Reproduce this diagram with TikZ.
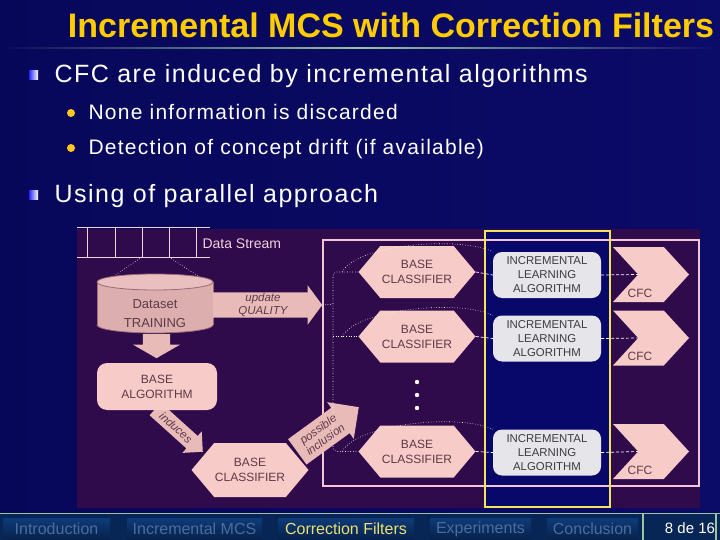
\documentclass[tikz,border=0pt]{standalone}
\usepackage{fontspec}
\setmainfont{Liberation Sans}
\usetikzlibrary{shapes.symbols,shapes.arrows,shapes.geometric}

\definecolor{slideL}{HTML}{07075A}
\definecolor{slideR}{HTML}{0B0B68}
\definecolor{navyfill}{HTML}{08086A}
\definecolor{titleyellow}{HTML}{FFCC00}
\definecolor{rulegreen}{HTML}{9CC4A0}
\definecolor{dotyellow}{HTML}{FFC820}
\definecolor{figbg}{HTML}{2F0B4C}
\definecolor{pinkfill}{HTML}{F7CBC8}
\definecolor{arrowfill}{HTML}{E8BAB8}
\definecolor{pinktext}{HTML}{5E3A48}
\definecolor{ilafill}{HTML}{E6E6EA}
\definecolor{ilatext}{HTML}{3C3C40}
\definecolor{cylbody}{HTML}{DDAEAE}
\definecolor{cylend}{HTML}{EABFBF}
\definecolor{cyledge}{HTML}{9C6A78}
\definecolor{streampink}{HTML}{F2D2DC}
\definecolor{framepink}{HTML}{F2C6D4}
\definecolor{boxyellow}{HTML}{F2E35A}
\definecolor{footbg}{HTML}{072656}
\definecolor{tabtop}{HTML}{0E3B78}
\definecolor{tabbot}{HTML}{06214C}
\definecolor{tabtext}{HTML}{4C6C9C}
\definecolor{tabactive}{HTML}{ECE070}

\tikzset{
  hexbox/.style={shape=signal, signal to=east and west, signal pointer angle=100,
    fill=pinkfill, text=pinktext, font=\fontsize{12}{15}\selectfont, align=center,
    minimum width=117pt, minimum height=52pt, inner sep=0pt},
  ilabox/.style={rectangle, rounded corners=9pt, fill=ilafill, text=ilatext,
    font=\fontsize{11.4}{14}\selectfont, align=center,
    minimum width=108pt, minimum height=46pt, inner sep=0pt},
  cfcbox/.style={shape=signal, signal from=west, signal to=east, signal pointer angle=95,
    fill=pinkfill, minimum width=76pt, minimum height=55pt, inner sep=0pt},
  cfctext/.style={text=pinktext, font=\fontsize{12}{12}\selectfont},
  bigarrow/.style={single arrow, fill=arrowfill, text=pinktext, single arrow head extend=7pt,
    inner sep=1pt, align=center, font=\itshape\fontsize{11.5}{12.5}\selectfont},
  dotline/.style={white, dotted, line width=0.6pt},
  dashline/.style={white, dashed, line width=0.7pt, dash pattern=on 3pt off 2pt},
  bullettext/.style={anchor=base west, text=white,
    font=\fontsize{25}{25}\selectfont\addfontfeature{LetterSpace=6}},
  subtext/.style={anchor=base west, text=white,
    font=\fontsize{21}{21}\selectfont\addfontfeature{LetterSpace=6}},
  tabbox/.style={rectangle, top color=tabtop, bottom color=tabbot, text=tabtext,
    minimum height=22pt, inner sep=0pt, font=\fontsize{16}{16}\selectfont},
}

\begin{document}
\begin{tikzpicture}[x=1pt,y=-1pt]
  % slide background
  \useasboundingbox (0,0) rectangle (720,540);
  \shade[left color=slideL, right color=slideR] (0,0) rectangle (720,540);
  % title and rule
  \node[anchor=base, text=titleyellow, font=\fontsize{34}{34}\selectfont\bfseries] (title) at (391,38)
    {Incremental MCS with Correction Filters};
  \shade[left color=slideL, right color=slideR, middle color=rulegreen] (0,47.5) rectangle (720,49);
  % bullets
  \shade[left color=blue!85!white, right color=white] (29,71) rectangle (38,80);
  \node[bullettext] (cfcline) at (51,83) {CFC are induced by incremental algorithms};
  \fill[dotyellow] (71,113) circle (4);
  \node[subtext] (noneline) at (85,120) {None information is discarded};
  \fill[dotyellow] (71,148) circle (4);
  \node[subtext] (driftline) at (85,155) {Detection of concept drift (if available)};
  \shade[left color=blue!85!white, right color=white] (29,191) rectangle (38,200);
  \node[bullettext] (parline) at (51,203) {Using of parallel approach};

  % figure panel
  \fill[figbg] (77,229) rectangle (700,508);
  \fill[navyfill] (485,231) rectangle (610,507);
  % frame of the parallel part
  \draw[framepink, line width=1.3pt] (323,240) rectangle (699,486);

  % data stream
  \foreach \y in {228,257} \draw[streampink, line width=1pt] (77,\y) -- (210,\y);
  \foreach \x in {87,115,142,169,196} \draw[streampink, line width=1pt] (\x,228) -- (\x,257);
  \node[anchor=west, text=streampink, font=\fontsize{14}{14}\selectfont] (stream) at (199,244) {Data Stream};
  \coordinate (cellA) at (142,257);
  \coordinate (cellB) at (169,257);

  % training dataset (cylinder)
  \filldraw[fill=cylbody, draw=cyledge, line width=0.8pt] (155,325) ellipse (58 and 8);
  \fill[cylbody] (97,282) rectangle (213,325);
  \draw[cyledge, line width=0.8pt] (97,282) -- (97,325) (213,282) -- (213,325);
  \filldraw[fill=cylend, draw=cyledge, line width=0.8pt] (155,282) ellipse (58 and 8);
  \node[align=center, text=pinktext, font=\fontsize{13}{19}\selectfont] (dataset)
    at (155,314) {Dataset\\TRAINING};
  \coordinate (cylA) at (114,276);
  \coordinate (cylB) at (198,276);
  \draw[dotline] (cellA) -- (cylA);
  \draw[dotline] (cellB) -- (cylB);

  % update arrow
  \node[bigarrow, anchor=tail, minimum height=109pt, single arrow tip angle=107] (update) at (213,305)
    {update\\QUALITY};
  % down arrow and base algorithm
  \node[bigarrow, rotate=-90, anchor=tail, minimum height=24pt, inner ysep=13.5pt, inner xsep=0pt,
    single arrow head extend=10pt, single arrow tip angle=120] (down) at (156.5,334) {};
  \node[bigarrow, rotate=-42, anchor=tip, minimum height=64pt, inner ysep=4pt,
    single arrow head extend=6pt] (induces) at (203,452) {induces};
  \node[rectangle, rounded corners=10pt, fill=pinkfill, text=pinktext, align=center,
    font=\fontsize{12}{15}\selectfont, minimum width=120pt, minimum height=47pt] (basealg)
    at (157,386.5) {BASE\\ALGORITHM};
  \node[bigarrow, rotate=36, anchor=tip, minimum height=76pt, inner ysep=5pt] (incl) at (359,407)
    {possible\\inclusion};
  \node[hexbox, minimum height=54pt] (base0) at (250,470) {BASE\\CLASSIFIER};

  % parallel rows
  \node[hexbox] (hex1) at (417,272) {BASE\\CLASSIFIER};
  \node[hexbox] (hex2) at (417,336.5) {BASE\\CLASSIFIER};
  \node[hexbox] (hex3) at (417,451.5) {BASE\\CLASSIFIER};
  \node[ilabox] (ila1) at (547,275) {INCREMENTAL\\LEARNING\\ALGORITHM};
  \node[ilabox] (ila2) at (547,338.5) {INCREMENTAL\\LEARNING\\ALGORITHM};
  \node[ilabox] (ila3) at (547,452.5) {INCREMENTAL\\LEARNING\\ALGORITHM};
  \node[cfcbox] (cfc1) at (651,274.5) {};
  \node[cfcbox] (cfc2) at (651,338) {};
  \node[cfcbox] (cfc3) at (651,451.5) {};
  \node[cfctext] (cfc1t) at ([shift={(-11,18.5)}]cfc1.center) {CFC};
  \node[cfctext] (cfc2t) at ([shift={(-11,18.5)}]cfc2.center) {CFC};
  \node[cfctext] (cfc3t) at ([shift={(-11,18.5)}]cfc3.center) {CFC};
  % vertical dots
  \foreach \y in {382,395,408} \fill[white] (417,\y) circle (2.2);

  % dotted fan-out
  \coordinate (fan) at (333,304);
  \draw[dotline] (update.tip) -- (fan);
  \draw[dotline, rounded corners=4pt] (hex1.west) -| (fan) |- (hex3.west);
  \draw[dotline] (fan |- hex2.west) -- (hex2.west);
  \foreach \r in {1,2,3}
    \draw[dotline] ([xshift=-16]hex\r.west) .. controls +(15,-28) and +(-33,-16) .. (ila\r.north west);
  % dashed links
  \foreach \r in {1,2,3} {
    \draw[dashline] (hex\r.east) -- (ila\r.west);
    \draw[dashline] (ila\r.east) -- (cfc\r.west);
  }
  % yellow box
  \draw[boxyellow, line width=2.6pt] (485,231) rectangle (610,507);

  % footer
  \fill[footbg] (0,513) rectangle (720,540);
  \draw[rulegreen, line width=1.2pt] (0,513.5) -- (720,513.5);
  \node[tabbox, minimum width=107pt] (tabintro) at (56.5,529) {Introduction};
  \node[tabbox, minimum width=135pt] (tabmcs) at (194.5,529) {Incremental MCS};
  \node[tabbox, minimum width=136pt, text=tabactive] (tabcf) at (346,529) {Correction Filters};
  \node[tabbox, minimum width=101pt] (tabexp) at (480.5,529) {Experiments};
  \node[tabbox, minimum width=91pt] (tabconc) at (592.5,529) {Conclusion};
  \draw[rulegreen, line width=1.2pt] (643,514) -- (643,540);
  \draw[rulegreen, line width=1.2pt] (716,514) -- (716,540);
  \node[text=white, font=\fontsize{15}{15}\selectfont] (pagenum) at (690,528) {8 de 16};
\end{tikzpicture}
\end{document}
